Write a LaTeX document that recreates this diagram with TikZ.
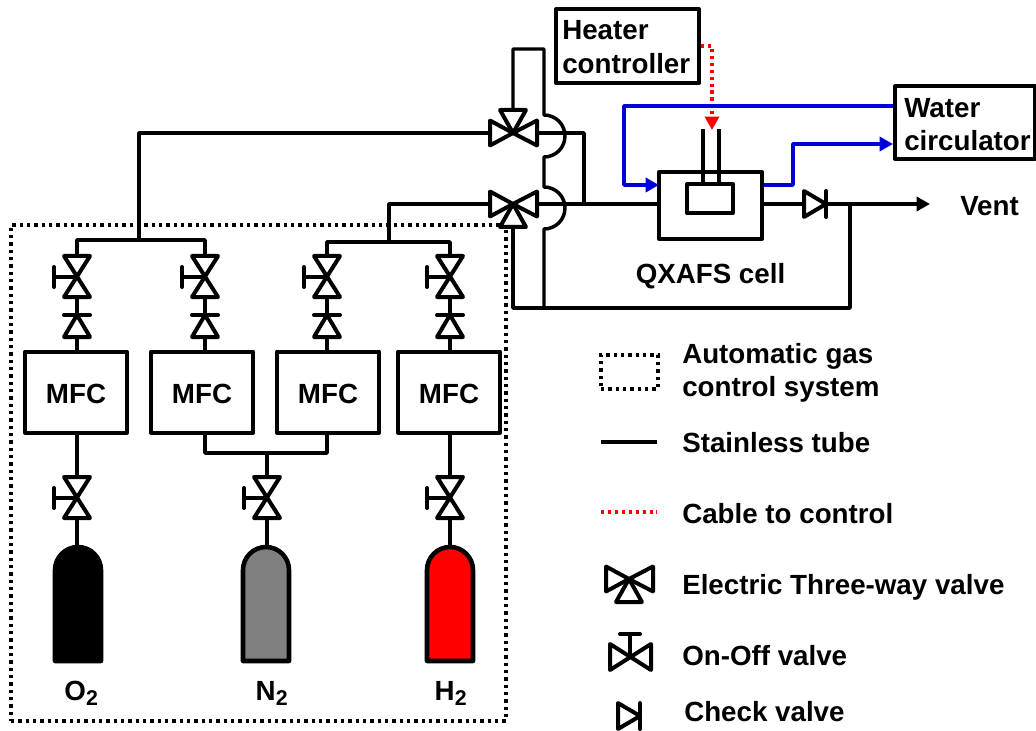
\documentclass[tikz,border=0pt]{standalone}
\usepackage{fontspec}
\setmainfont{Liberation Sans}
\usetikzlibrary{arrows.meta}
\newcommand{\mflarge}{\fontsize{20.8pt}{25pt}\selectfont}
\newcommand{\subtwo}{\textsubscript{\fontsize{16pt}{16pt}\selectfont 2}}
\tikzset{
  tube/.style={line width=3pt,line cap=round,line join=round},
  thin tube/.style={line width=2.6pt,line join=round},
  dotline/.style={line width=3pt,dash pattern=on 2.6pt off 2.9pt},
  cable/.style={line width=2.4pt,red,dash pattern=on 2.4pt off 2.8pt},
  water/.style={line width=2.6pt,blue!85!black,line join=round},
  tipend/.style={-{Triangle[length=10pt,width=10.5pt]}},
  box/.style={draw,tube,inner sep=0pt,font=\bfseries\mflarge},
  mfc/.style={box,minimum width=76.5pt,minimum height=60.75pt,text height=18pt},
  txt/.style={font=\bfseries\mflarge,inner sep=0pt,anchor=base west,align=left},
  % valve with its handle on the left, flow from top to bottom
  onoff/.pic={
    \draw[tube,fill=white] (-13,-21) -- (13,-21) -- (-13,20) -- (13,20) -- cycle;
    \draw[tube] (0,0) -- (-23,0) (-23,-10) -- (-23,10);
    \coordinate (-top) at (0,-21);
    \coordinate (-bot) at (0,20);
  },
  % check valve, bar on the top
  checkup/.pic={
    \draw[tube,fill=white] (0,0) -- (13,22) -- (-13,22) -- cycle;
    \draw[tube] (-13,0) -- (13,0);
    \coordinate (-top) at (0,0);
    \coordinate (-bot) at (0,22);
  },
  % check valve, bar on the right
  checkright/.pic={
    \draw[tube,fill=white] (0,0) -- (-22,-13) -- (-22,13) -- cycle;
    \draw[tube] (0,-13) -- (0,13);
    \coordinate (-in) at (-22,0);
    \coordinate (-out) at (0,0);
  },
  % three triangles meeting in the middle
  threeway/.pic={
    \draw[tube,fill=white] (0,0) -- (-23,-12.5) -- (-23,12.5) -- cycle;
    \draw[tube,fill=white] (0,0) -- (24,-12.5) -- (24,12.5) -- cycle;
    \draw[tube,fill=white] (0,0) -- (-13,23) -- (13,23) -- cycle;
    \coordinate (-left) at (-23,0);
    \coordinate (-right) at (24,0);
    \coordinate (-third) at (0,23);
  },
  bottle/.pic={
    \draw[line width=3.4pt,line join=round,pic actions] (-23,115) -- (-23,24) arc[start angle=180,end angle=360,radius=23] -- (23,115) -- cycle;
    \coordinate (-top) at (0,0);
  },
}
\begin{document}
\begin{tikzpicture}[x=0.75pt,y=-0.75pt]
\useasboundingbox (0,0) rectangle (1036,731);

% gas control system
\node[draw,dotline,minimum width=371.25pt,minimum height=372pt,inner sep=0pt] (gasbox) at (258.5,473) {};
\node[mfc] (mfcO) at (76,392) {MFC};
\node[mfc] (mfcNa) at (202,392) {MFC};
\node[mfc] (mfcNb) at (328,392) {MFC};
\node[mfc] (mfcH) at (449,392) {MFC};

\pic (va) at (77,277) {onoff};
\pic (vb) at (205,277) {onoff};
\pic (vc) at (327,277) {onoff};
\pic (vd) at (450,277) {onoff};
\pic (ca) at (77,315) {checkup};
\pic (cb) at (205,315) {checkup};
\pic (cc) at (327,315) {checkup};
\pic (cd) at (450,315) {checkup};
\pic (vo) at (77,498) {onoff};
\pic (vn) at (267,498) {onoff};
\pic (vh) at (450,498) {onoff};

\pic[fill=black] (bo) at (78,546) {bottle};
\pic[fill=black!50] (bn) at (266,546) {bottle};
\pic[fill=red] (bh) at (450,546) {bottle};
\node[txt,anchor=base] (lo) at (81.5,700) {O\subtwo};
\node[txt,anchor=base] (ln) at (272,700) {N\subtwo};
\node[txt,anchor=base] (lh) at (451,700) {H\subtwo};

\foreach \v/\c in {va/ca,vb/cb,vc/cc,vd/cd}
  \draw[thin tube] (\v-bot) -- (\c-top);
\draw[thin tube] (ca-bot) -- (ca-bot |- mfcO.north);
\draw[thin tube] (cb-bot) -- (cb-bot |- mfcNa.north);
\draw[thin tube] (cc-bot) -- (cc-bot |- mfcNb.north);
\draw[thin tube] (cd-bot) -- (cd-bot |- mfcH.north);
\draw[thin tube] (vo-top) -- (vo-top |- mfcO.south);
\draw[thin tube] (vh-top) -- (vh-top |- mfcH.south);
\draw[thin tube] (vo-bot) -- (vo-bot |- bo-top);
\draw[thin tube] (vn-bot) -- (vn-bot |- bn-top);
\draw[thin tube] (vh-bot) -- (vh-bot |- bh-top);
\coordinate (splitN) at (267,453);
\draw[thin tube] (mfcNa.south -| cb-bot) |- (splitN) -| (mfcNb.south -| cc-bot);
\draw[thin tube] (vn-top) -- (splitN);

% three-way valves and the reactor line
\pic[yscale=-1] (tu) at (513,133) {threeway};
\pic (tl) at (513,204) {threeway};
\coordinate (hubA) at (139,240);
\coordinate (hubB) at (389,242);
\draw[thin tube] (va-top) |- (hubA) -| (vb-top);
\draw[thin tube] (vc-top) |- (hubB) -| (vd-top);
\draw[thin tube] (hubA) |- (tu-left);
\draw[thin tube] (hubB) |- (tl-left);

\node[box,minimum width=77.25pt,minimum height=50.25pt] (cell) at (710.5,205.5) {};
\node[box,minimum width=34.5pt,minimum height=21.75pt] (heater) at (710,198.5) {};
\coordinate (tubeA) at (703,129);
\coordinate (tubeB) at (719,129);
\draw[thin tube] (tubeA) -- (tubeA |- heater.north);
\draw[thin tube] (tubeB) -- (tubeB |- heater.north);
\node[txt,anchor=base] (celltxt) at (710.5,283) {QXAFS cell};

\coordinate (loopA) at (513,49);
\coordinate (loopB) at (544,49);
\coordinate (crossA) at (544,115);
\coordinate (crossB) at (544,187);
\coordinate (retA) at (544,308);
\coordinate (retB) at (513,308);
\coordinate (retC) at (850,308);
\coordinate (joinV) at (850,204);
\coordinate (joinU) at (584,204);
\coordinate (ventEnd) at (930,204);
\pic (chk) at (826,204) {checkright};

\draw[thin tube] (tu-third) -- (loopA) -- (loopB) -- (crossA) arc[start angle=-90,end angle=90,radius=21] -- (crossB) arc[start angle=-90,end angle=90,radius=21] -- (retA);
\draw[thin tube] (tl-third) -- (retB) -- (retC) -- (joinV);
\draw[thin tube] (tu-right) -| (joinU);
\draw[thin tube] (tl-right) -- (tl-right -| cell.west);
\draw[thin tube] (tl-right -| cell.east) -- (chk-in);
\draw[thin tube,tipend] (chk-out) -- (ventEnd);
\node[txt] (vent) at (960,216) {Vent};

% heater and water
\node[box,minimum width=107.25pt,minimum height=55.5pt] (ctrl) at (627.5,46) {};
\node[txt,anchor=west] (ctrltxt) at (562,47) {Heater\\[0.6pt]controller};
\node[box,minimum width=105pt,minimum height=54.75pt] (circ) at (965,122.5) {};
\node[txt,anchor=west] (circtxt) at (904,124.5) {Water\\[0.2pt]circulator};
\coordinate (redA) at (712,46);
\coordinate (redB) at (712,130);
\draw[cable,tipend] (ctrl.east) -- (redA) -- (redB);
\coordinate (blueA) at (624,106);
\coordinate (blueB) at (659,185);
\coordinate (blueC) at (793,185);
\coordinate (blueD) at (793,144);
\draw[water,tipend] (circ.west |- blueA) -- (blueA) |- (blueB);
\draw[water,tipend] (cell.east |- blueC) -- (blueC) -- (blueD) -- (circ.west |- blueD);

% legend
\node[draw,dotline,minimum width=42.75pt,minimum height=25.5pt,inner sep=0pt] (legbox) at (629.5,372) {};
\node[txt,anchor=west] (legboxtxt) at (682,372.5) {Automatic gas\\[-0.4pt]control system};
\coordinate (legtubeA) at (601,442);
\coordinate (legtubeB) at (657,442);
\draw[thin tube] (legtubeA) -- (legtubeB);
\node[txt] (legtubetxt) at (682,452) {Stainless tube};
\coordinate (legcableA) at (601,512);
\coordinate (legcableB) at (657,512);
\draw[cable] (legcableA) -- (legcableB);
\node[txt] (legcabletxt) at (682,523) {Cable to control};
\pic (legthree) at (629,579) {threeway};
\node[txt] (legthreetxt) at (682,594) {Electric Three-way valve};
\pic[rotate=-90] (legonoff) at (630,657) {onoff};
\node[txt] (legonofftxt) at (682,665) {On-Off valve};
\pic (legcheck) at (640,716) {checkright};
\node[txt] (legchecktxt) at (684,721) {Check valve};
\end{tikzpicture}
\end{document}
